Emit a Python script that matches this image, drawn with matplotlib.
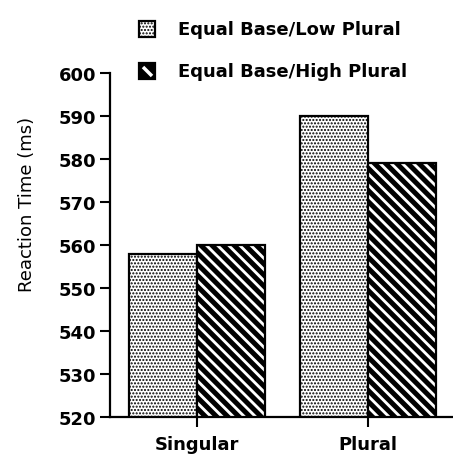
import matplotlib
matplotlib.use("Agg")
import matplotlib.pyplot as plt
import matplotlib.patches as mpatches
from matplotlib.lines import Line2D
import numpy as np

plt.rcParams["font.family"] = ["DejaVu Sans"]

conditions = ["Singular", "Plural"]
low_plural = [558, 590]
high_plural = [560, 579]
series_labels = ["Equal Base/Low Plural", "Equal Base/High Plural"]
y_ticks = [520, 530, 540, 550, 560, 570, 580, 590, 600]

DOT_HATCH = "....."
STRIPE_HATCH = "\\\\\\"

fig = plt.figure(figsize=(4.53, 4.56), dpi=100)
ax = fig.add_axes([0.243, 0.083, 0.757, 0.755])

x = np.arange(len(conditions))
width = 0.40

plt.rcParams["hatch.linewidth"] = 1.0
ax.bar(x - width / 2, low_plural, width, color="white",
       edgecolor="black", linewidth=1.6, hatch=DOT_HATCH)
plt.rcParams["hatch.linewidth"] = 3.6
ax.bar(x + width / 2, high_plural, width, color="white",
       edgecolor="black", linewidth=1.6, hatch=STRIPE_HATCH)

ax.set_ylim(520, 600)
ax.set_xlim(-0.509, 1.497)
ax.set_yticks(y_ticks)
ax.set_xticks(x)
ax.set_xticklabels(conditions)

for side in ["top", "right"]:
    ax.spines[side].set_visible(False)
for side in ["left", "bottom"]:
    ax.spines[side].set_linewidth(1.6)

ax.tick_params(axis="both", direction="out", length=7, width=1.5,
               labelsize=13, pad=3)
ax.tick_params(axis="x", pad=6)
for lab in ax.get_xticklabels() + ax.get_yticklabels():
    lab.set_fontweight("bold")

ax.set_ylabel("Reaction Time (ms)", fontsize=13)
ax.yaxis.set_label_coords(-0.215, 0.62)

# legend drawn by hand in figure coordinates
W, H = 453.0, 456.0
rows_y = [30, 72]
for i, (label, yc) in enumerate(zip(series_labels, rows_y)):
    x0, y0 = 139 / W, 1 - (yc + 8) / H
    if i == 0:
        plt.rcParams["hatch.linewidth"] = 1.0
        sq = mpatches.Rectangle((x0, y0), 16 / W, 16 / H,
                                transform=fig.transFigure, facecolor="white",
                                edgecolor="black", linewidth=1.6,
                                hatch=DOT_HATCH)
        fig.add_artist(sq)
    else:
        sq = mpatches.Rectangle((x0, y0), 16 / W, 16 / H,
                                transform=fig.transFigure, facecolor="black",
                                edgecolor="black", linewidth=1.6)
        fig.add_artist(sq)
        fig.add_artist(Line2D([x0 + 4 / W, x0 + 13 / W],
                              [y0 + 12 / H, y0 + 3 / H],
                              transform=fig.transFigure, color="white",
                              linewidth=2.5, solid_capstyle="butt"))
    fig.text(178 / W, 1 - yc / H, label, fontsize=13, fontweight="bold",
             va="center", ha="left")

fig.savefig("out.png", dpi=100)
